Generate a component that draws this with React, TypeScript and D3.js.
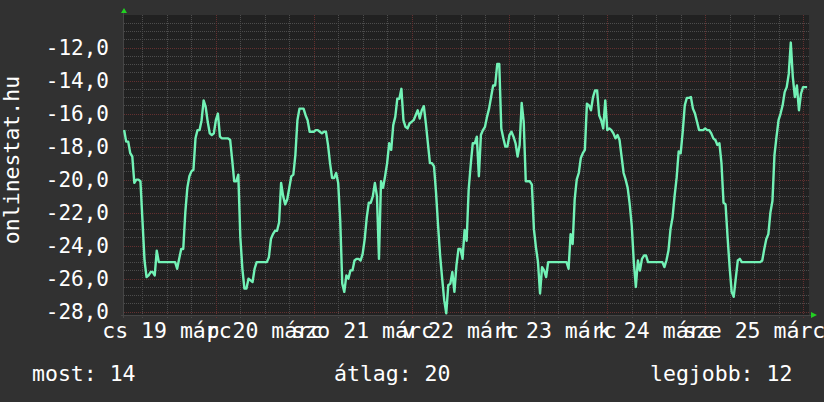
import React from "react";
import * as d3 from "d3";

const W = 824;
const H = 402;

// 30-minute values (negative rank)
const mar19 = [
  -17.0, -17.7, -17.7, -18.4, -18.6, -20.2, -20.0, -20.0, -20.1, -22.5,
  -24.9, -25.9, -25.8, -25.6, -25.6, -25.8, -24.3, -25.0, -25.0, -25.0,
  -25.0, -25.0, -25.0, -25.0, -25.0, -25.0, -25.4, -24.8, -24.2, -24.2,
  -22.0, -20.5, -19.8, -19.5, -19.4, -17.5, -17.0, -17.0, -16.4, -15.2,
  -15.6, -16.5, -17.2, -17.3, -17.2,
];
const mar20 = [
  -16.4, -16.0, -17.4, -17.5, -17.5, -17.5, -17.5, -17.6, -18.8, -20.1,
  -20.1, -19.7, -23.5, -25.4, -26.6, -26.6, -26.0, -26.1, -26.2, -25.4,
  -25.0, -25.0, -25.0, -25.0, -25.0, -25.0, -24.7, -23.6, -23.3, -23.1,
  -23.1, -22.6, -20.2, -21.0, -21.5, -21.2, -20.5, -19.8, -19.7, -18.5,
  -16.4, -15.7, -15.7, -15.7, -16.1, -16.4, -17.1, -17.1,
];
const mar21 = [
  -17.1, -17.0, -17.0, -17.1, -17.2, -17.1, -17.1, -17.9, -19.0, -19.9,
  -19.9, -19.6, -20.2, -22.5, -26.3, -26.8, -25.8, -26.0, -25.5, -25.5,
  -24.9, -24.8, -24.8, -24.9, -24.5, -23.6, -22.3, -21.4, -21.4, -21.0,
  -20.2, -21.0, -24.8, -20.1, -20.5, -19.8, -19.0, -17.8, -18.2, -16.7,
  -16.2, -15.1, -15.1, -14.5, -16.4, -16.8, -16.9, -16.6,
];
const mar22 = [
  -16.5, -16.4, -16.1, -15.8, -16.3, -15.8, -15.55, -16.6, -17.8, -19.0,
  -19.0, -19.2, -20.8, -22.8, -24.6, -26.0, -27.3, -28.1, -26.4, -26.3,
  -25.6, -26.8, -25.2, -24.2, -24.2, -24.8, -23.05, -23.7, -20.6, -19.1,
  -17.8, -17.8, -17.4, -19.8, -17.3, -17.0, -16.8, -16.2, -15.7, -15.0,
  -14.3, -14.3, -13.0, -13.0, -16.9, -17.5, -18.0, -18.0,
];
const mar23 = [
  -17.3, -17.1, -17.4, -17.8, -18.6, -17.9, -15.35, -16.5, -20.1, -20.1,
  -20.1, -20.3, -23.0, -24.1, -25.0, -26.9, -25.3, -25.5, -25.9, -25.0,
  -25.0, -25.0, -25.0, -25.0, -25.0, -25.0, -25.0, -25.0, -25.0, -25.4,
  -23.3, -23.9, -21.2, -20.0, -19.6, -18.7, -18.4, -18.2, -15.4, -15.5,
  -15.8, -15.0, -14.6, -14.6, -16.1, -16.4, -16.9, -15.2,
];
const mar24 = [
  -17.0, -16.9, -17.0, -17.2, -17.5, -17.3, -17.6, -18.6, -19.6, -20.0,
  -20.5, -21.5, -22.8, -25.0, -26.5, -24.9, -25.5, -24.8, -24.6, -24.6,
  -25.0, -25.0, -25.0, -25.0, -25.0, -25.0, -25.0, -25.0, -25.3, -24.9,
  -24.3, -23.0, -22.3, -21.0, -19.9, -18.3, -18.4, -17.1, -15.5, -15.05,
  -15.05, -15.0, -15.7, -16.0, -16.5, -17.0, -17.0, -17.0,
];
const mar25 = [
  -16.9, -17.0, -17.0, -17.2, -17.5, -17.6, -17.9, -17.8, -19.0, -21.4,
  -21.5, -23.5, -25.3, -26.8, -27.1, -26.0, -24.9, -24.8, -25.0, -25.0,
  -25.0, -25.0, -25.0, -25.0, -25.0, -25.0, -25.0, -25.0, -24.9, -24.2,
  -23.6, -23.3, -22.0, -21.3, -18.5, -17.4, -16.4, -16.0, -15.5, -14.7,
  -14.4, -13.6, -11.7, -13.8, -15.0, -14.3, -15.8, -14.8,
];
const mar26 = [-14.4, -14.4, -14.4];

const dayStarts = [
  { values: mar19, start: new Date(2026, 2, 19, 1, 30) },
  { values: mar20, start: new Date(2026, 2, 20, 0, 0) },
  { values: mar21, start: new Date(2026, 2, 21, 0, 0) },
  { values: mar22, start: new Date(2026, 2, 22, 0, 0) },
  { values: mar23, start: new Date(2026, 2, 23, 0, 0) },
  { values: mar24, start: new Date(2026, 2, 24, 0, 0) },
  { values: mar25, start: new Date(2026, 2, 25, 0, 0) },
  { values: mar26, start: new Date(2026, 2, 26, 0, 0) },
];

const xLabelDays = [19, 20, 21, 22, 23, 24, 25];
const xLabels = [
  "cs 19 márc",
  "p 20 márc",
  "szo 21 márc",
  "v 22 márc",
  "h 23 márc",
  "k 24 márc",
  "sze 25 márc",
];
const yTicks = [-28, -26, -24, -22, -20, -18, -16, -14, -12];
const yTitle = "onlinestat.hu";
const legendLabels = ["most: 14", "átlag: 20", "legjobb: 12"];

const HALF_HOUR = 30 * 60 * 1000;
const series = dayStarts.flatMap((d) =>
  d.values.map((v, i) => ({ t: new Date(d.start.getTime() + i * HALF_HOUR), v }))
);

const FONT = "'DejaVu Sans Mono', monospace";

export default function App() {
  const left = 124;
  const right = 809;
  const top = 15;
  const bottom = 315;

  const x = d3
    .scaleTime()
    .domain([new Date(2026, 2, 19, 1, 28), new Date(2026, 2, 26, 1, 28)])
    .range([left, right]);
  const y = d3.scaleLinear().domain([-28.2, -10.03]).range([bottom, top]);

  const line = d3
    .line<{ t: Date; v: number }>()
    .x((d) => x(d.t))
    .y((d) => y(d.v))
    .curve(d3.curveLinear);

  const minorY = d3.range(-28, -10.26, 0.5).filter((v) => Math.abs(v % 2) > 0.01);
  const sixHours = d3.timeHour.every(6)!.range(x.domain()[0], x.domain()[1]);
  const minorX = sixHours.filter((d) => d.getHours() !== 0);
  const majorX = sixHours.filter((d) => d.getHours() === 0);

  const bg = "#313131";
  const plotBg = "#212121";
  const minorCol = "#4c4c4c";
  const majorCol = "#633030";
  const arrowCol = "#22d022";

  return (
    <svg
      width={W}
      height={H}
      style={{ position: "fixed", left: 0, top: 0, display: "block" }}
      fontFamily={FONT}
    >
      <rect x={0} y={0} width={W} height={H} fill={bg} />
      <rect x={left} y={top} width={right - left} height={bottom - top} fill={plotBg} />

      {minorY.map((v) => (
        <line
          key={"my" + v}
          x1={left}
          x2={right}
          y1={Math.round(y(v)) + 0.5}
          y2={Math.round(y(v)) + 0.5}
          stroke={minorCol}
          strokeDasharray="1,1"
        />
      ))}
      {minorX.map((d) => (
        <line
          key={"mx" + d.getTime()}
          x1={Math.round(x(d)) + 0.5}
          x2={Math.round(x(d)) + 0.5}
          y1={top}
          y2={bottom + 3}
          stroke={minorCol}
          strokeDasharray="1,1"
        />
      ))}
      {yTicks.map((v) => (
        <line
          key={"My" + v}
          x1={left}
          x2={right}
          y1={Math.round(y(v)) + 0.5}
          y2={Math.round(y(v)) + 0.5}
          stroke={majorCol}
          strokeDasharray="1,1"
        />
      ))}
      {majorX.map((d) => (
        <line
          key={"Mx" + d.getTime()}
          x1={Math.round(x(d)) + 0.5}
          x2={Math.round(x(d)) + 0.5}
          y1={top}
          y2={bottom + 3}
          stroke={majorCol}
          strokeDasharray="1,1"
        />
      ))}

      {/* axes */}
      <line x1={left - 0.5} x2={left - 0.5} y1={bottom + 3} y2={top - 4} stroke="#454545" />
      <line x1={left - 3} x2={right + 3} y1={bottom + 0.5} y2={bottom + 0.5} stroke="#454545" />
      <polygon
        points={`${left - 3},${top - 2} ${left + 3},${top - 2} ${left},${top - 7}`}
        fill={arrowCol}
      />
      <polygon
        points={`${right + 2},${bottom - 3} ${right + 2},${bottom + 3} ${right + 8},${bottom}`}
        fill={arrowCol}
      />

      <path
        d={line(series) || ""}
        fill="none"
        stroke="#72f2b6"
        strokeWidth={2.4}
        strokeLinejoin="round"
      />

      {yTicks.map((v) => (
        <text
          key={"yl" + v}
          x={109}
          y={y(v)}
          dy="0.36em"
          textAnchor="end"
          fontSize={21}
          fill="#ffffff"
        >
          {v.toFixed(1).replace(".", ",")}
        </text>
      ))}

      {xLabels.map((lab, i) => (
        <text
          key={"xl" + i}
          x={x(new Date(2026, 2, xLabelDays[i], 12, 0))}
          y={338}
          textAnchor="middle"
          fontSize={21.5}
          fill="#ffffff"
        >
          {lab}
        </text>
      ))}

      <text
        transform={`translate(19,${160}) rotate(-90)`}
        textAnchor="middle"
        fontSize={21.5}
        fill="#ffffff"
      >
        {yTitle}
      </text>

      {legendLabels.map((lab, i) => (
        <text key={"lg" + i} x={[32, 334, 650][i]} y={381} fontSize={21.5} fill="#ffffff">
          {lab}
        </text>
      ))}
    </svg>
  );
}
